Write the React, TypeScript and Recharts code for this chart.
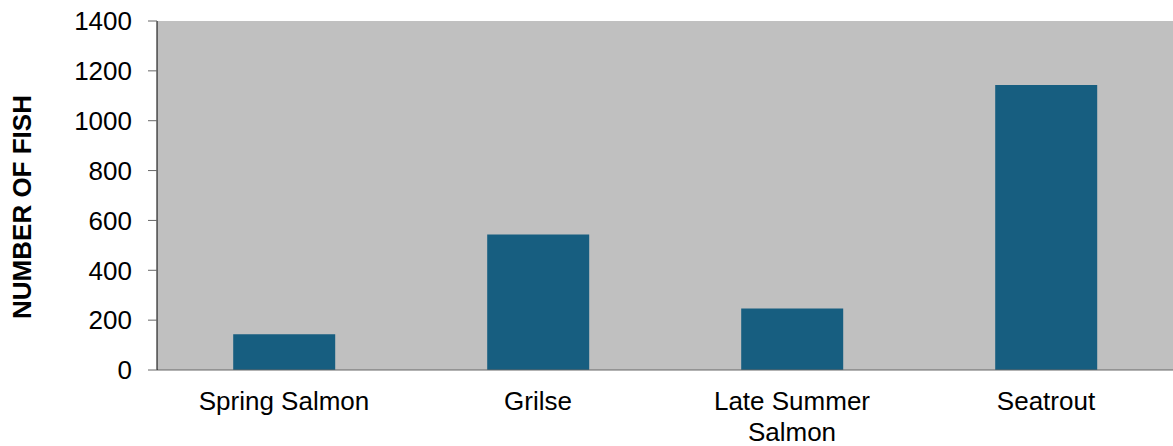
import React from 'react';
import { BarChart, Bar, CartesianGrid, XAxis, YAxis } from 'recharts';

// Fish counts by run type
const categories = ['Spring Salmon', 'Grilse', 'Late Summer Salmon', 'Seatrout'];
const fishCounts = [143, 544, 247, 1143];
const yTicks = [0, 200, 400, 600, 800, 1000, 1200, 1400];
const yAxisTitle = 'NUMBER OF FISH';

const FONT = '"Liberation Sans", Arial, sans-serif';

const chartData = categories.map((name, i) => ({ name, count: fishCounts[i] }));
const edgeTicks = categories.map((_, i) => i).concat(categories.length);

// greedy word wrap, roughly what fits under one category
const wrapLabel = (label: string, maxChars = 13) => {
  const lines: string[] = [];
  label.split(' ').forEach((word) => {
    const last = lines[lines.length - 1];
    if (last && (last + ' ' + word).length <= maxChars) {
      lines[lines.length - 1] = last + ' ' + word;
    } else {
      lines.push(word);
    }
  });
  return lines;
};

const CategoryTick = ({ x, y, payload }: any) => (
  <text x={x} y={y} textAnchor="middle" fontSize={26} fontFamily={FONT} fill="#000">
    {wrapLabel(String(payload.value)).map((line, i) => (
      <tspan key={i} x={x} dy={i === 0 ? 18 : 31}>
        {line}
      </tspan>
    ))}
  </text>
);

const YTitle = () => (
  <text
    x={22}
    y={207}
    transform="rotate(-90 22 207)"
    textAnchor="middle"
    dominantBaseline="central"
    fontSize={26}
    fontWeight="bold"
    fontFamily={FONT}
    fill="#000"
  >
    {yAxisTitle}
  </text>
);

export default function App() {
  return (
    <div style={{ position: 'absolute', left: 0, top: 0, width: 1173, height: 446, background: '#fff' }}>
      <BarChart
        width={1173}
        height={446}
        data={chartData}
        margin={{ top: 21, right: 0, left: 0, bottom: 0 }}
        barCategoryGap="30%"
      >
        <CartesianGrid fill="#C0C0C0" horizontal={false} vertical={false} stroke="none" />
        {/* boundary tick marks between categories */}
        <XAxis
          xAxisId="edges"
          type="number"
          domain={[0, categories.length]}
          ticks={edgeTicks}
          interval={0}
          height={0}
          tick={false}
          tickSize={8}
          axisLine={false}
          tickLine={{ stroke: '#555' }}
        />
        <XAxis
          dataKey="name"
          height={76}
          interval={0}
          tickLine={false}
          tickSize={8}
          tickMargin={14}
          axisLine={{ stroke: '#666' }}
          tick={<CategoryTick />}
        />
        <YAxis
          width={157}
          domain={[0, 1400]}
          ticks={yTicks}
          interval={0}
          tickSize={9}
          tickMargin={16}
          axisLine={{ stroke: '#000' }}
          tickLine={{ stroke: '#666' }}
          tick={{ fill: '#000', fontSize: 26, fontFamily: FONT }}
          label={<YTitle />}
        />
        <Bar dataKey="count" fill="#175E80" isAnimationActive={false} />
      </BarChart>
    </div>
  );
}
